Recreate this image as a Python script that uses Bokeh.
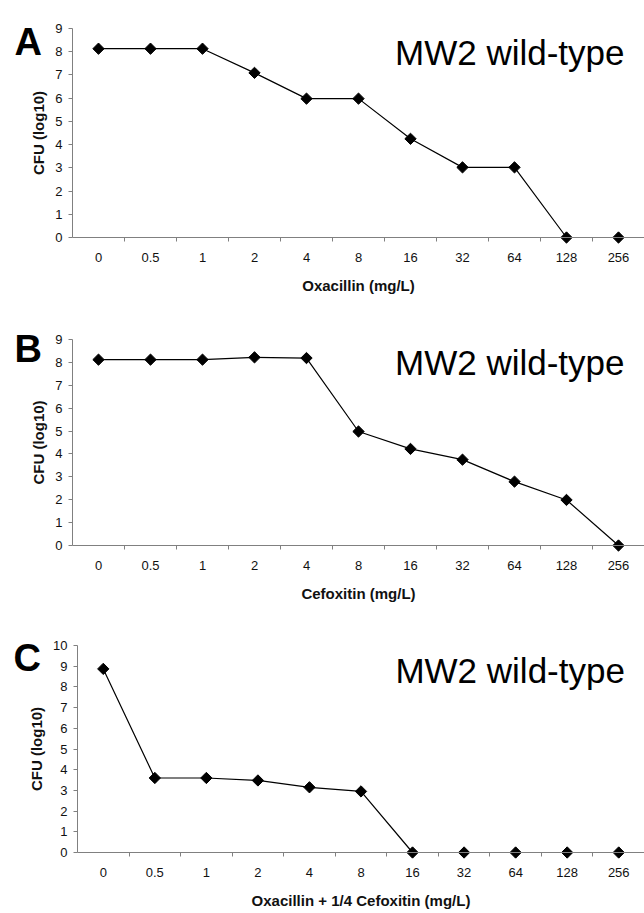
import math
from bokeh.plotting import figure
from bokeh.models import Range1d, FixedTicker, Label
from bokeh.layouts import column
from bokeh.embed import file_html
from bokeh.resources import INLINE

# ---- data ----
conc = ["0", "0.5", "1", "2", "4", "8", "16", "32", "64", "128", "256"]
cfu_oxacillin = [8.13, 8.13, 8.13, 7.09, 5.98, 5.98, 4.25, 3.02, 3.02, 0, 0]
cfu_cefoxitin = [8.12, 8.12, 8.12, 8.22, 8.19, 4.98, 4.22, 3.75, 2.79, 1.99, 0]
cfu_combo = [8.87, 3.6, 3.6, 3.48, 3.15, 2.95, 0, 0, 0, 0, 0]
xlabels = ["Oxacillin (mg/L)", "Cefoxitin (mg/L)", "Oxacillin + 1/4 Cefoxitin (mg/L)"]
panel_letters = ["A", "B", "C"]
strain = "MW2 wild-type"

FONT = "Liberation Sans"
AXIS_GRAY = "#808080"
W = 644


def make_panel(letter, values, xlabel, ymax, height, y0_px, ytop_px, x0_px,
               letter_pos, strain_pos):
    """y0_px / ytop_px: pixel rows (from figure top) of y=0 and y=ymax;
    x0_px: pixel column of the plot's left edge (category boundary 0)."""
    n = len(conc)
    xs = [i + 0.5 for i in range(n)]
    xunit = (W - x0_px) / n
    yunit = (y0_px - ytop_px) / ymax
    x_range = Range1d(-x0_px / xunit, n)
    y_range = Range1d(-(height - y0_px) / yunit, ymax + ytop_px / yunit)

    p = figure(width=W, height=height, output_backend="svg", toolbar_location=None,
               x_range=x_range, y_range=y_range,
               min_border_left=0, min_border_right=0, min_border_top=0,
               min_border_bottom=0)
    p.outline_line_color = None
    p.grid.visible = False
    p.background_fill_color = "white"
    p.border_fill_color = "white"

    # x axis at y = 0 with tick marks between categories
    xa = p.xaxis[0]
    xa.fixed_location = 0
    xa.bounds = (0, n)
    xa.ticker = FixedTicker(ticks=xs, minor_ticks=list(range(1, n)))
    xa.major_label_overrides = {x: c for x, c in zip(xs, conc)}
    xa.major_tick_out = 0
    xa.major_tick_in = 0
    xa.minor_tick_out = 4
    xa.minor_tick_in = 0
    xa.axis_line_color = AXIS_GRAY
    xa.minor_tick_line_color = AXIS_GRAY
    xa.major_label_text_font = FONT
    xa.major_label_text_font_size = "13px"
    xa.major_label_text_color = "#111111"
    xa.major_label_standoff = 11
    xa.axis_label = xlabel
    xa.axis_label_text_font = FONT
    xa.axis_label_text_font_style = "bold"
    xa.axis_label_text_font_size = "15px"
    xa.axis_label_text_color = "#111111"
    xa.axis_label_standoff = 12

    ya = p.yaxis[0]
    ya.fixed_location = 0
    ya.bounds = (0, ymax)
    ya.ticker = FixedTicker(ticks=list(range(0, ymax + 1)))
    ya.minor_tick_line_color = None
    ya.major_tick_out = 4
    ya.major_tick_in = 0
    ya.axis_line_color = AXIS_GRAY
    ya.major_tick_line_color = AXIS_GRAY
    ya.major_label_text_font = FONT
    ya.major_label_text_font_size = "13px"
    ya.major_label_text_color = "#111111"
    ya.major_label_standoff = 6
    ya.axis_label = "CFU (log10)"
    ya.axis_label_text_font = FONT
    ya.axis_label_text_font_style = "bold"
    ya.axis_label_text_font_size = "15px"
    ya.axis_label_text_color = "#111111"
    ya.axis_label_standoff = 5

    p.line(xs, values, line_color="black", line_width=1.2)
    p.scatter(xs, values, marker="square", size=8, angle=math.pi / 4,
              fill_color="black", line_color="black")

    p.add_layout(Label(x=letter_pos[0], y=letter_pos[1], text=letter,
                       text_font=FONT, text_font_style="bold",
                       text_font_size="38px", text_color="black",
                       text_align="left", text_baseline="alphabetic"))
    p.add_layout(Label(x=strain_pos[0], y=strain_pos[1], text=strain,
                       text_font=FONT, text_font_size="35px", text_color="black",
                       text_align="right", text_baseline="alphabetic"))
    return p


pA = make_panel(panel_letters[0], cfu_oxacillin, xlabels[0], 9, 300, 237, 28, 72,
                (-1.115, 8.40), (10.615, 7.97))
pB = make_panel(panel_letters[1], cfu_cefoxitin, xlabels[1], 9, 310, 245, 39, 72,
                (-1.115, 8.60), (10.615, 7.99))
pC = make_panel(panel_letters[2], cfu_combo, xlabels[2], 10, 303, 242, 35, 77,
                (-1.24, 9.42), (10.62, 8.79))

layout = column(pA, pB, pC, spacing=0)
open("out.html", "w").write(file_html(layout, INLINE))
